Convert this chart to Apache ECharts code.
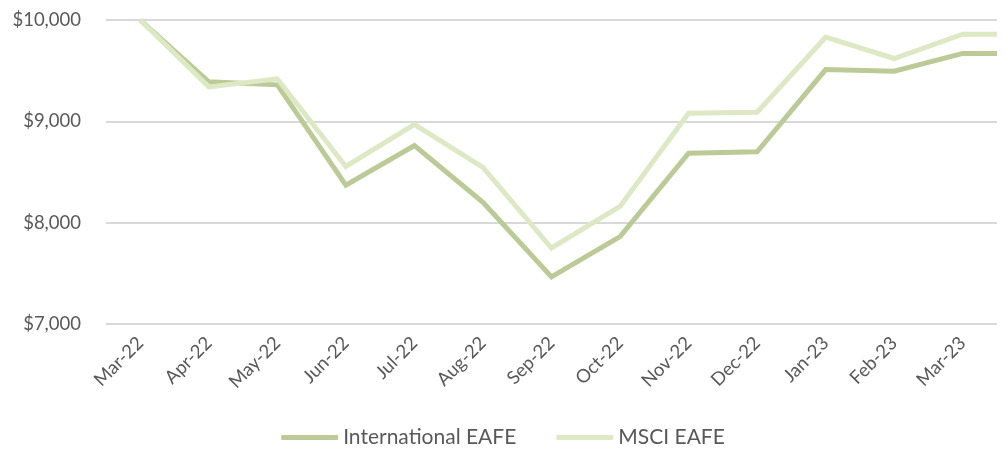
<!DOCTYPE html>
<html>
<head>
<meta charset="utf-8">
<script src="https://cdn.jsdelivr.net/npm/echarts@6/dist/echarts.min.js"></script>
<style>
  html, body { margin: 0; padding: 0; background: #fff; }
  #chart { width: 1006px; height: 455px; }
</style>
</head>
<body>
<div id="chart"></div>
<script>
// month labels on the x axis
const months = ['Mar-22', 'Apr-22', 'May-22', 'Jun-22', 'Jul-22', 'Aug-22', 'Sep-22',
                'Oct-22', 'Nov-22', 'Dec-22', 'Jan-23', 'Feb-23', 'Mar-23'];
// growth of $10,000
const intlEafe = [10000, 9390, 9360, 8370, 8760, 8200, 7465, 7862, 8685, 8700, 9511, 9495, 9670];
const msciEafe = [10000, 9340, 9420, 8555, 8970, 8545, 7750, 8160, 9080, 9090, 9830, 9620, 9860];
const yTicks = [7000, 8000, 9000, 10000];

const textColor = '#595959';
const font = 'Lato, "Open Sans", sans-serif';

// points sit at category centres; the line runs flat out to the plot edge like the original
function toPoints(values) {
    let pts = values.map((v, i) => [i, v]);
    pts.push([values.length - 0.5, values[values.length - 1]]);
    return pts;
}

const chart = echarts.init(document.getElementById('chart'));
chart.setOption({
    animation: false,
    grid: { left: 106, right: 9, top: 20, bottom: 131 },
    legend: {
        bottom: 2,
        left: 'center',
        itemWidth: 57,
        itemHeight: 5,
        itemGap: 40,
        icon: 'roundRect',
        textStyle: { color: textColor, fontSize: 21, fontFamily: font },
        data: ['International EAFE', 'MSCI EAFE']
    },
    xAxis: [
        {
            type: 'category',
            data: months,
            boundaryGap: true,
            axisLine: { show: false },
            axisTick: { show: false },
            axisLabel: {
                interval: 0,
                rotate: 45,
                margin: 16,
                color: textColor,
                fontSize: 18.5,
                fontFamily: font
            }
        },
        {
            type: 'value',
            min: -0.5,
            max: months.length - 0.5,
            show: false
        }
    ],
    yAxis: {
        type: 'value',
        min: yTicks[0],
        max: yTicks[yTicks.length - 1],
        interval: 1000,
        axisLine: { show: false },
        axisTick: { show: false },
        splitLine: { lineStyle: { color: '#d9d9d9', width: 2 } },
        axisLabel: {
            margin: 25,
            color: textColor,
            fontSize: 18.5,
            fontFamily: font,
            formatter: v => '$' + v.toLocaleString('en-US')
        }
    },
    series: [
        {
            name: 'International EAFE',
            type: 'line',
            xAxisIndex: 1,
            data: toPoints(intlEafe),
            showSymbol: false,
            lineStyle: { color: '#bbca97', width: 5, join: 'miter' },
            itemStyle: { color: '#bbca97' }
        },
        {
            name: 'MSCI EAFE',
            type: 'line',
            xAxisIndex: 1,
            data: toPoints(msciEafe),
            showSymbol: false,
            lineStyle: { color: '#dde8c4', width: 5, join: 'miter' },
            itemStyle: { color: '#dde8c4' }
        }
    ]
});
</script>
</body>
</html>
